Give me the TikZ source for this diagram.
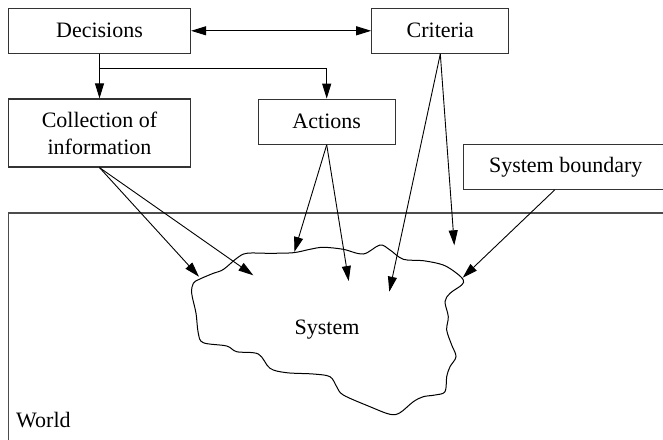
\documentclass[tikz,border=0pt]{standalone}
\usepackage{fontspec}
\setmainfont{Liberation Serif}
\usetikzlibrary{arrows.meta}
\newcommand{\boxfont}{\fontsize{22}{27}\selectfont}
\begin{document}
\begin{tikzpicture}[x=1pt,y=-1pt,
  box/.style={draw=black!80,line width=1.2pt,inner sep=0pt,align=center,font=\boxfont},
  label text/.style={inner sep=0pt,font=\boxfont},
  tip/.style={Triangle[length=15pt,width=9pt]},
  arr/.style={line width=0.9pt,-{Triangle[length=15pt,width=9pt]}},
  darr/.style={line width=0.9pt,{Triangle[length=15pt,width=9pt]}-{Triangle[length=15pt,width=9pt]}},
  worldline/.style={draw=black!70,line width=1.6pt},
  blob/.style={draw=black,line width=1pt}]
\path[use as bounding box,clip] (0,0) rectangle (663,439);

% world frame (runs off the page to the right and bottom)
\draw[worldline] (8.3,212.7) rectangle (700,480);
\node[label text,anchor=base west] (world) at (16,427) {World};

% the system, drawn as an irregular closed outline
\draw[blob] plot[smooth cycle,tension=0.55] coordinates {
  (199.3,279.3) (213.3,273.3) (223.3,269.5) (236.7,258.3) (246.7,253.3)
  (270,253.3) (293.3,252.7) (310,249.3) (323.3,247.3) (343.3,249.3)
  (363.3,254) (380,245) (390,250) (403.3,259.3) (423.3,260.7)
  (443.3,265) (456.7,273.3) (463.3,280) (461.7,285) (450,293.3)
  (445,301.7) (448.3,316.7) (446.7,330) (451.7,345) (456,356.7)
  (450,366.7) (446.7,376.7) (445,391.7) (435,395) (423.3,396.7)
  (413.3,401.7) (400,412.7) (390,414.3) (370,406.7) (343.3,395)
  (336.7,386.7) (330,376.7) (313.3,374) (286.7,372.7) (270,368.3)
  (258.3,354) (236.7,351.7) (226.7,346) (203.3,342.7) (198.3,333.3)
  (196,313.3) (191.7,293.3) (193.3,283.3)};
\node[label text] (sys) at (327,330) {System};

% boxes
\node[box,minimum width=182pt,minimum height=45pt] (dec) at (99.5,30.8) {Decisions};
\node[box,minimum width=137pt,minimum height=45pt] (crit) at (440.3,30.8) {Criteria};
\node[box,minimum width=182pt,minimum height=68pt] (coll) at (99.5,133) {Collection of\\information};
\node[box,minimum width=137pt,minimum height=45pt] (act) at (326.7,121.7) {Actions};
\node[box,minimum width=204pt,minimum height=45pt] (sb) at (565.7,166.8) {System boundary};

% arrow end points on and inside the system
\coordinate (c1) at (199,276.7);
\coordinate (c2) at (253.3,275.3);
\coordinate (a1) at (294.3,252);
\coordinate (a2) at (348.7,281);
\coordinate (k1) at (389.3,291.7);
\coordinate (k2) at (454.3,245.3);
\coordinate (b1) at (462.7,277.7);

% connectors
\draw[darr] (dec.east) -- (crit.west);
\draw[arr] (dec.south) -- (coll.north);
\draw[arr] (dec.south) ++(0,14.4) -| (act.north);
\draw[arr] (coll.south) -- (c1);
\draw[arr] (coll.south) -- (c2);
\draw[arr] (act.south) -- (a1);
\draw[arr] (act.south) -- (a2);
\draw[arr] (crit.south) -- (k1);
\draw[arr] (crit.south) -- (k2);
\draw[arr] ([xshift=-11pt]sb.south) -- (b1);
\end{tikzpicture}
\end{document}
